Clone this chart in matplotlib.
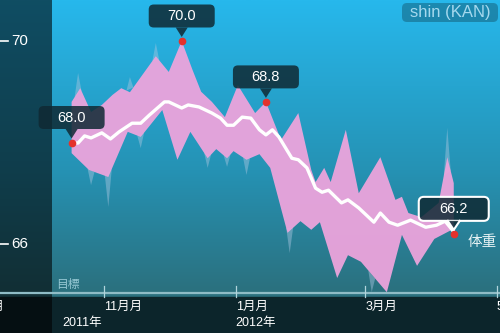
import numpy as np
import pandas as pd
import matplotlib
matplotlib.use('Agg')
import matplotlib.pyplot as plt
import matplotlib.dates as mdates
from matplotlib.patches import FancyBboxPatch, Polygon, Rectangle
from matplotlib.transforms import IdentityTransform
from matplotlib.colors import LinearSegmentedColormap

plt.rcParams['font.family'] = ['Liberation Sans', 'Noto Sans CJK JP', 'DejaVu Sans']

# upper / lower edge of the pink range band (kg)
upper_dates = ['2011-10-17', '2011-10-21', '2011-10-26', '2011-10-31', '2011-11-05', '2011-11-09',
               '2011-11-13', '2011-11-25', '2011-12-01', '2011-12-07', '2011-12-12', '2011-12-16',
               '2011-12-21', '2011-12-27', '2012-01-02', '2012-01-10', '2012-01-15', '2012-01-22',
               '2012-01-30', '2012-02-05', '2012-02-07', '2012-02-11', '2012-02-14', '2012-02-21',
               '2012-02-27', '2012-03-08', '2012-03-15', '2012-03-18', '2012-03-21', '2012-03-27',
               '2012-04-04', '2012-04-08', '2012-04-11']
upper_kg = [68.80, 69.07, 68.60, 68.74, 68.94, 69.07, 68.99, 69.70, 69.39, 70.0, 69.43, 69.00,
            68.80, 68.50, 69.13, 68.58, 68.80, 68.05, 68.58, 67.46, 67.22, 67.50, 67.22, 68.25,
            67.00, 67.71, 66.87, 66.93, 66.61, 66.53, 66.81, 67.71, 67.20]

lower_dates = ['2011-10-17', '2011-10-25', '2011-11-03', '2011-11-12', '2011-11-18', '2011-11-28',
               '2011-12-05', '2011-12-11', '2011-12-19', '2011-12-23', '2011-12-28', '2011-12-31',
               '2012-01-06', '2012-01-12', '2012-01-17', '2012-01-25', '2012-01-31', '2012-02-05',
               '2012-02-09', '2012-02-17', '2012-02-22', '2012-02-28', '2012-03-11', '2012-03-18',
               '2012-03-25', '2012-04-02', '2012-04-11']
lower_kg = [67.79, 67.46, 67.32, 68.21, 68.11, 68.64, 67.66, 68.21, 67.69, 67.87, 67.69, 67.83,
            67.66, 67.77, 67.50, 66.22, 66.45, 66.28, 66.43, 65.33, 65.78, 65.65, 65.05, 66.18,
            65.57, 66.10, 66.30]

# smoothed weight (white line)
avg_dates = ['2011-10-17', '2011-10-20', '2011-10-23', '2011-10-26', '2011-10-31', '2011-11-04',
             '2011-11-08', '2011-11-14', '2011-11-18', '2011-11-22', '2011-11-29', '2011-12-01',
             '2011-12-07', '2011-12-10', '2011-12-15', '2011-12-21', '2011-12-25', '2011-12-28',
             '2011-12-31', '2012-01-04', '2012-01-08', '2012-01-12', '2012-01-15', '2012-01-18',
             '2012-01-21', '2012-01-27', '2012-01-30', '2012-02-03', '2012-02-07', '2012-02-10',
             '2012-02-13', '2012-02-19', '2012-02-22', '2012-02-27', '2012-03-05', '2012-03-08',
             '2012-03-12', '2012-03-16', '2012-03-22', '2012-03-29', '2012-04-03', '2012-04-07',
             '2012-04-11']
avg_kg = [67.99, 67.99, 68.13, 68.09, 68.19, 68.07, 68.21, 68.38, 68.38, 68.54, 68.80, 68.80,
          68.68, 68.74, 68.70, 68.58, 68.48, 68.34, 68.34, 68.50, 68.48, 68.25, 68.15, 68.25,
          68.11, 67.69, 67.66, 67.50, 67.10, 67.02, 67.06, 66.81, 66.87, 66.71, 66.43, 66.61,
          66.43, 66.37, 66.47, 66.33, 66.37, 66.45, 66.24]

# faint spikes sticking out of the band
spike_dates = ['2011-10-20', '2011-10-26', '2011-11-03', '2011-11-13', '2011-11-18', '2011-11-25',
               '2011-12-19', '2011-12-28', '2012-01-06', '2012-01-26', '2012-03-04', '2012-04-08']
spike_kg = [69.37, 67.16, 66.73, 69.29, 67.89, 69.96, 67.50, 67.52, 67.36, 65.82, 65.05, 68.29]

# labelled points
mark_dates = ['2011-10-17', '2011-12-07', '2012-01-15', '2012-04-11']
mark_kg = [68.0, 70.0, 68.8, 66.2]

tick_dates = ['2011-09-01', '2011-11-01', '2012-01-01', '2012-03-01', '2012-05-01']
tick_labels = ['9月月', '11月月', '1月月', '3月月', '5月月']
year_labels = ['2011年', '2012年']
y_ticks = [70, 66]


def to_num(d):
    return mdates.date2num(pd.to_datetime(d))


W, H = 500, 333
fig = plt.figure(figsize=(5, 3.33), dpi=100)
ax = fig.add_axes([0, 0, 1, 1])
ax.axis('off')

# background gradient
bg = LinearSegmentedColormap.from_list('bg', [(0, '#2b6e7c'), (0.129, '#2b717f'),
                                              (0.489, '#2592b4'), (1, '#27b8ec')])
grad = np.linspace(0, 1, 256)[:, None]
ax.imshow(grad, cmap=bg, aspect='auto', extent=(0, 1, 0, 1), origin='lower',
          transform=ax.transAxes, zorder=0)
ax.add_patch(Rectangle((0, 0), 1, 36 / H, transform=ax.transAxes, color='#0c252b', zorder=1))

nov1 = to_num('2011-11-01')
px_day = 2.159
ax.set_xlim(nov1 - 104 / px_day, nov1 + 396 / px_day)
ax.set_ylim(70 - 292 / 50.75, 70 + 41 / 50.75)

# pink band
ux, lx = to_num(upper_dates), to_num(lower_dates)
ax.fill(np.concatenate([ux, lx[::-1]]), np.concatenate([upper_kg, lower_kg[::-1]]),
        fc='#eca4dc', ec='none', alpha=0.95, zorder=3)

# spikes
for d, v in zip(to_num(spike_dates), spike_kg):
    up = np.interp(d, ux, upper_kg)
    lo = np.interp(d, lx, lower_kg)
    hw = 1.6
    if v > up:
        b0, b1 = np.interp(d - hw, ux, upper_kg), np.interp(d + hw, ux, upper_kg)
    else:
        b0, b1 = np.interp(d - hw, lx, lower_kg), np.interp(d + hw, lx, lower_kg)
    ax.fill([d - hw, d, d + hw], [b0, v, b1], fc='#a9c6e0', ec='none', alpha=0.45, zorder=2)

# white smoothed line
ax.plot(to_num(avg_dates), avg_kg, color='white', lw=2.4, solid_joinstyle='round', zorder=4)
ax.plot(to_num(mark_dates), mark_kg, 'o', color='#e4322c', ms=4.5, zorder=5)

# left dark panel
ax.add_patch(Rectangle((0, 0), 52 / W, 1, transform=ax.transAxes, color='black',
                       alpha=0.58, lw=0, zorder=6))

# x axis line, ticks, labels
xt = ax.get_xaxis_transform()
ax.plot([0, 1], [(H - 293) / H] * 2, transform=ax.transAxes, color='#8fbcc6', lw=1.6, zorder=7)
for d, lab in zip(to_num(tick_dates), tick_labels):
    ax.plot([d, d], [(H - 297) / H, (H - 286) / H], transform=xt, color='#b0d4dc', lw=0.9, zorder=7)
    ax.text(d, (H - 307) / H, lab, transform=xt, ha='left', va='center', fontsize=9,
            color='white', zorder=8)
ax.text(62 / W, (H - 323) / H, year_labels[0], transform=ax.transAxes, ha='left', va='center',
        fontsize=9, color='white', zorder=8)
ax.text(to_num('2012-01-01'), (H - 323) / H, year_labels[1], transform=xt, ha='left',
        va='center', fontsize=9, color='white', zorder=8)
ax.text(56 / W, (H - 285) / H, '目標', transform=ax.transAxes, ha='left', va='center',
        fontsize=8.5, color='#94c6d2', zorder=8)

# y ticks
yt = ax.get_yaxis_transform()
for v in y_ticks:
    ax.plot([0, 8 / W], [v, v], transform=yt, color='white', lw=1.2, zorder=8)
    ax.text(11 / W, v, str(v), transform=yt, ha='left', va='center', fontsize=11,
            color='white', zorder=8)

ax.text(468 / W, (H - 242) / H, '体重', transform=ax.transAxes, ha='left', va='center',
        fontsize=10.5, color='#e6f2f4', zorder=8)

# title box
ident = IdentityTransform()
ax.add_patch(FancyBboxPatch((402, H - 22), 96, 19, boxstyle='round,pad=0,rounding_size=5',
                            transform=ident, fc='black', ec='none', alpha=0.25, zorder=8))
ax.text(450, H - 12.5, 'shin (KAN)', transform=ident, ha='center', va='center', fontsize=12,
        color='#a5d9ee', zorder=9)


def callout(d, v, border=False):
    px, py = ax.transData.transform((d, v))
    w, h = (70, 24) if border else (66, 23)
    cy = py + 25
    fc = (0.06, 0.16, 0.2, 0.85)
    ax.add_patch(FancyBboxPatch((px - w / 2, cy - h / 2), w, h,
                                boxstyle='round,pad=0,rounding_size=5', transform=ident,
                                fc=fc, ec='white' if border else 'none',
                                lw=1.5 if border else 0, zorder=9))
    b = cy - h / 2
    ax.add_patch(Polygon([(px - 6, b), (px + 6, b), (px, py + 4)], closed=True,
                         transform=ident, fc=fc, ec='none', zorder=9))
    if border:
        ax.plot([px - 6, px, px + 6], [b, py + 4, b], transform=ident, color='white',
                lw=1.5, zorder=10)
    ax.text(px, cy, f'{v:.1f}', transform=ident, ha='center', va='center', fontsize=10.5,
            color='white', zorder=10)


for i, (d, v) in enumerate(zip(to_num(mark_dates), mark_kg)):
    callout(d, v, border=(i == len(mark_kg) - 1))

fig.savefig('out.png', dpi=100)
